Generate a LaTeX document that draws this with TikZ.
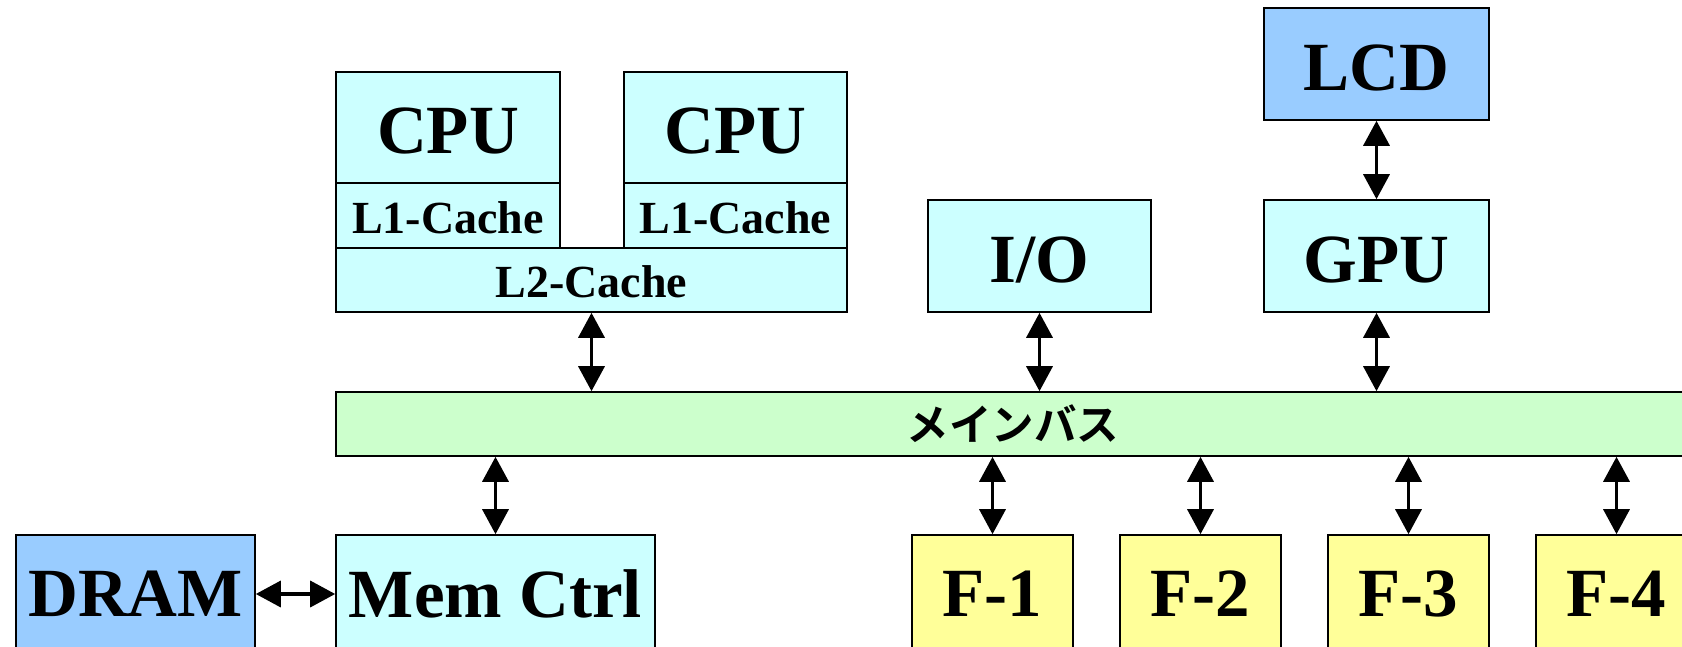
\documentclass[tikz,border=0pt]{standalone}
\usepackage{fontspec}
\setmainfont{Liberation Serif}
\newfontfamily\jp{Noto Sans CJK JP}[BoldFont={Noto Sans CJK JP Bold}]
\usetikzlibrary{arrows.meta}
\definecolor{cyanbox}{HTML}{CCFFFF}
\definecolor{bluebox}{HTML}{99CCFF}
\definecolor{greenbox}{HTML}{CCFFCC}
\definecolor{yellowbox}{HTML}{FFFF99}
\tikzset{
  box/.style={draw=black, line width=1.6pt, inner sep=0pt, align=center, font=\bfseries},
  bigtxt/.style={font=\fontsize{69}{80}\selectfont\bfseries},
  toptxt/.style={bigtxt, text height=52pt, text depth=0pt},
  smalltxt/.style={font=\fontsize{46}{52}\selectfont\bfseries, text height=35pt, text depth=0pt},
  biarrow/.style={line width=3.5pt, {Triangle[length=25pt,width=26pt]}-{Triangle[length=25pt,width=26pt]}},
}
\begin{document}
\begin{tikzpicture}[x=1pt,y=-1pt]
\useasboundingbox (0,0) rectangle (1682,646);
% CPU cluster
\node[box, toptxt, fill=cyanbox, minimum width=224pt, minimum height=111pt] (cpu1) at (448,127.5) {CPU};
\node[box, smalltxt, fill=cyanbox, minimum width=224pt, minimum height=65pt] (l1a) at (448,215.5) {L1-Cache};
\node[box, toptxt, fill=cyanbox, minimum width=223pt, minimum height=111pt] (cpu2) at (735.5,127.5) {CPU};
\node[box, smalltxt, fill=cyanbox, minimum width=223pt, minimum height=65pt] (l1b) at (735.5,215.5) {L1-Cache};
\node[box, smalltxt, fill=cyanbox, minimum width=511pt, minimum height=64pt] (l2) at (591.5,280) {L2-Cache};
% I/O, GPU, LCD
\node[box, toptxt, fill=cyanbox, minimum width=223pt, minimum height=112pt] (io) at (1039.5,256) {I/O};
\node[box, toptxt, fill=bluebox, minimum width=225pt, minimum height=112pt] (lcd) at (1376.5,64) {LCD};
\node[box, toptxt, fill=cyanbox, minimum width=225pt, minimum height=112pt] (gpu) at (1376.5,256) {GPU};
% bus
\node[box, fill=greenbox, minimum width=1354pt, minimum height=64pt, font=\jp\bfseries\fontsize{42.5}{46}\selectfont] (bus) at (1013,424) {メインバス};
% bottom row
\node[box, bigtxt, fill=bluebox, minimum width=239pt, minimum height=118pt] (dram) at (135.5,594) {DRAM};
\node[box, bigtxt, fill=cyanbox, minimum width=319pt, minimum height=118pt] (mem) at (495.5,594) {Mem Ctrl};
\node[box, bigtxt, fill=yellowbox, minimum width=161pt, minimum height=118pt] (f1) at (992.5,594) {F-1};
\node[box, bigtxt, fill=yellowbox, minimum width=161pt, minimum height=118pt] (f2) at (1200.5,594) {F-2};
\node[box, bigtxt, fill=yellowbox, minimum width=161pt, minimum height=118pt] (f3) at (1408.5,594) {F-3};
\node[box, bigtxt, fill=yellowbox, minimum width=161pt, minimum height=118pt] (f4) at (1616.5,594) {F-4};
% connectors
\draw[biarrow] (l2.south) -- (l2.south |- bus.north);
\draw[biarrow] (io.south) -- (io.south |- bus.north);
\draw[biarrow] (gpu.south) -- (gpu.south |- bus.north);
\draw[biarrow] (lcd.south) -- (gpu.north);
\draw[biarrow] (mem.north |- bus.south) -- (mem.north);
\draw[biarrow] (f1.north |- bus.south) -- (f1.north);
\draw[biarrow] (f2.north |- bus.south) -- (f2.north);
\draw[biarrow] (f3.north |- bus.south) -- (f3.north);
\draw[biarrow] (f4.north |- bus.south) -- (f4.north);
\draw[biarrow] (dram.east) -- (mem.west);
\end{tikzpicture}
\end{document}
